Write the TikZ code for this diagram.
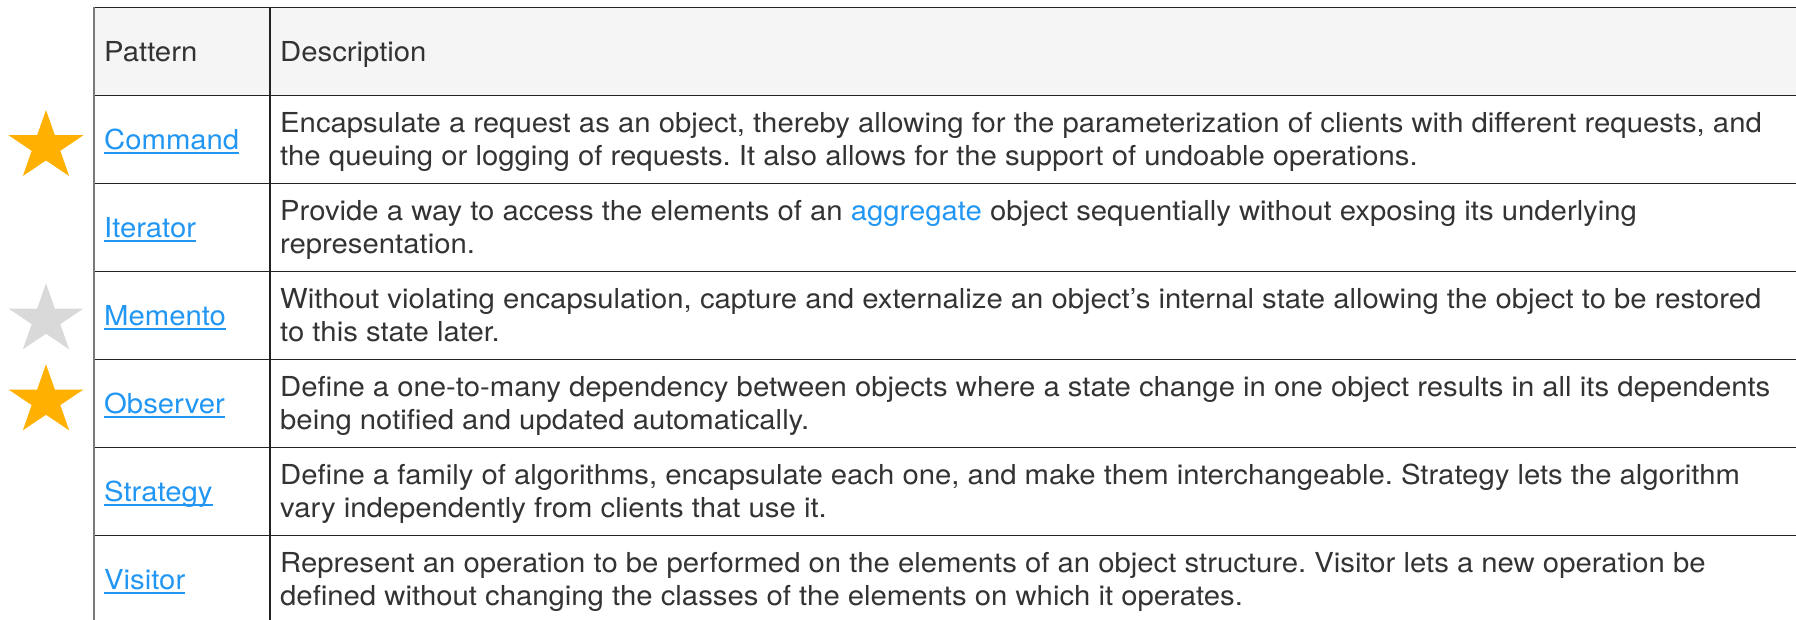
\documentclass[tikz,border=0pt]{standalone}
\usepackage{fontspec}
\setmainfont{TeX Gyre Heros}[FakeStretch=1.065]
\usetikzlibrary{shapes.geometric}

\definecolor{bodytext}{HTML}{333333}
\definecolor{linkblue}{HTML}{2196F3}
\definecolor{headfill}{HTML}{F5F5F5}
\definecolor{rulecol}{HTML}{222222}
\definecolor{edgecol}{HTML}{7A7A7A}
\definecolor{goldstar}{HTML}{FFB000}
\definecolor{greystar}{HTML}{D9D9D9}

% underlined link text: rule of 1.8pt set 2.6pt below the baseline
\newsavebox{\linkbox}
\newcommand{\patlink}[1]{\textcolor{linkblue}{\sbox{\linkbox}{#1}%
  \rlap{\rule[-4.4pt]{\wd\linkbox}{1.8pt}}\usebox{\linkbox}}}
\newcommand{\inlink}[1]{\textcolor{linkblue}{#1}}
\newcommand{\twolines}[2]{\begin{tabular}[t]{@{}l@{}}#1\\#2\end{tabular}}

\tikzset{
  cell/.style={anchor=base west, inner sep=0pt, text=bodytext,
    font=\fontsize{27.5pt}{33pt}\selectfont\frenchspacing},
  rowrule/.style={draw=rulecol, line width=1.8pt},
  edgerule/.style={draw=edgecol, line width=2pt},
  rating/.style={star, star points=5, star point ratio=2.618,
    minimum size=73pt, inner sep=0pt, draw=none, transform shape},
}

\begin{document}
\begin{tikzpicture}[x=1pt, y=-1pt]
  \useasboundingbox (0,0) rectangle (1796,620);
  \clip (0,0) rectangle (1796,620);

  % header band
  \fill[headfill] (94,7.5) rectangle (1800,95.5);

  % horizontal rules
  \foreach \yy in {7.5,95.5,183.5,271.5,359.5,447.5,535.5}
    \draw[rowrule] (94,\yy) -- (1800,\yy);
  % column rules
  \draw[edgerule] (94,7.5) -- (94,625);
  \draw[rowrule] (270,7.5) -- (270,625);

  % header
  \node[cell] (hPattern) at (104,61.6) {Pattern};
  \node[cell] (hDesc) at (280,61.6) {Description};

  % pattern names
  \node[cell] (pCommand)  at (104,149.5) {\patlink{Command}};
  \node[cell] (pIterator) at (104,237.5) {\patlink{Iterator}};
  \node[cell] (pMemento)  at (104,325.5) {\patlink{Memento}};
  \node[cell] (pObserver) at (104,413.5) {\patlink{Observer}};
  \node[cell] (pStrategy) at (104,501.5) {\patlink{Strategy}};
  \node[cell] (pVisitor)  at (104,589.5) {\patlink{Visitor}};

  % descriptions
  \node[cell] (dCommand) at (280,132.9) {\twolines
    {Encapsulate a request as an object, thereby allowing for the parameterization of clients with different requests, and}
    {the queuing or logging of requests. It also allows for the support of undoable operations.}};
  \node[cell] (dIterator) at (280,220.9) {\twolines
    {Provide a way to access the elements of an \inlink{aggregate} object sequentially without exposing its underlying}
    {representation.}};
  \node[cell] (dMemento) at (280,308.9) {\twolines
    {Without violating encapsulation, capture and externalize an object’s internal state allowing the object to be restored}
    {to this state later.}};
  \node[cell] (dObserver) at (280,396.9) {\twolines
    {Define a one-to-many dependency between objects where a state change in one object results in all its dependents}
    {being notified and updated automatically.}};
  \node[cell] (dStrategy) at (280,484.9) {\twolines
    {Define a family of algorithms, encapsulate each one, and make them interchangeable. Strategy lets the algorithm}
    {vary independently from clients that use it.}};
  \node[cell] (dVisitor) at (280,572.9) {\twolines
    {Represent an operation to be performed on the elements of an object structure. Visitor lets a new operation be}
    {defined without changing the classes of the elements on which it operates.}};

  % rating stars beside the table (slightly wide, as drawn)
  \begin{scope}[shift={(46,146.5)}, xscale=1.08]
    \node[rating, fill=goldstar] (sCommand) at (0,0) {};
  \end{scope}
  \begin{scope}[shift={(46,319.8)}, xscale=1.08]
    \node[rating, fill=greystar] (sMemento) at (0,0) {};
  \end{scope}
  \begin{scope}[shift={(46,400.8)}, xscale=1.08]
    \node[rating, fill=goldstar] (sObserver) at (0,0) {};
  \end{scope}
\end{tikzpicture}
\end{document}
